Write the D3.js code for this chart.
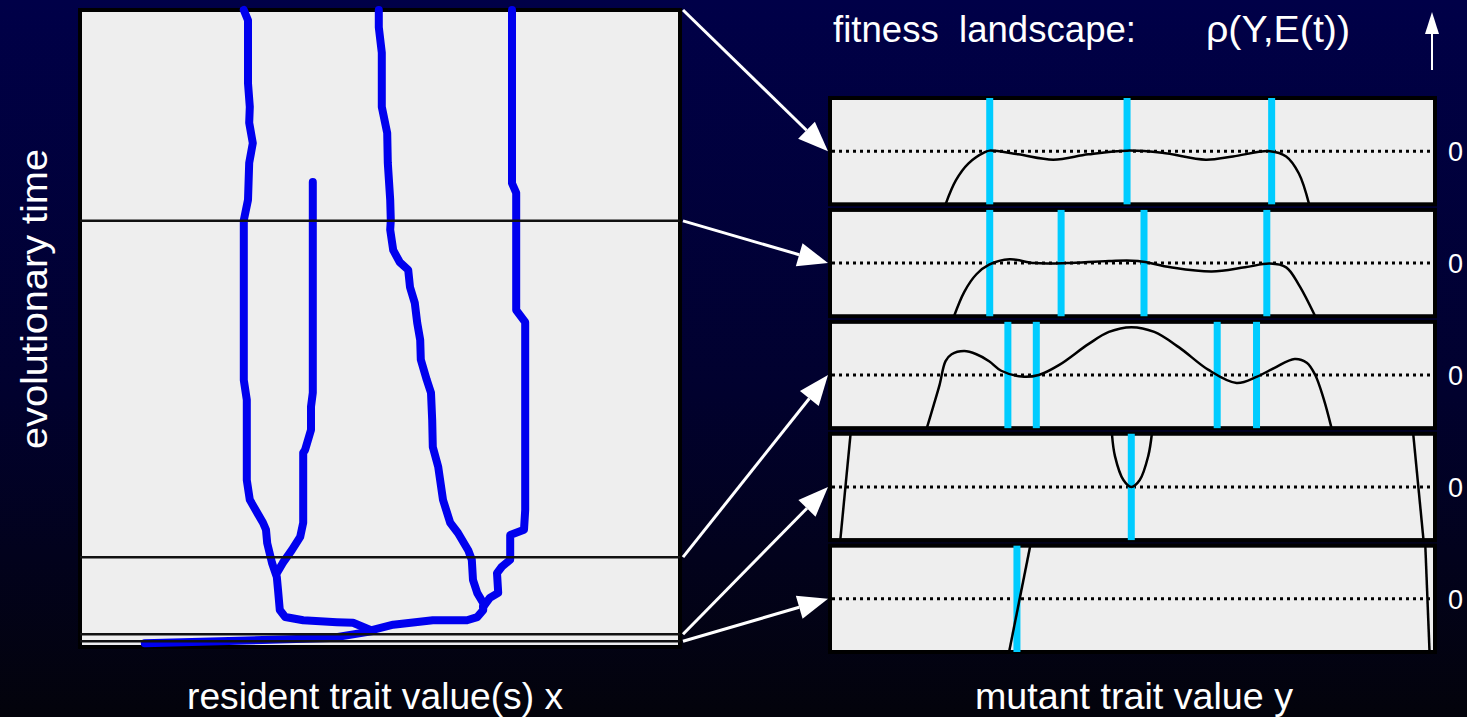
<!DOCTYPE html>
<html>
<head>
<meta charset="utf-8">
<script src="https://cdn.jsdelivr.net/npm/d3@7"></script>
<style>
  body { margin: 0; background: #000; }
  svg { display: block; }
  text { font-family: "Liberation Sans", Arial, sans-serif; fill: #fff; white-space: pre; }
</style>
</head>
<body>
<svg id="chart"></svg>
<script>
// resident lineages: [trait x, evolutionary time]
var lineageA = [[2.73,10],[2.8,9.84],[2.8,8.85],[2.83,8.48],[2.82,8.23],[2.88,7.91],[2.82,7.6],[2.8,7.02],[2.73,6.7],[2.73,4.19],[2.78,3.88],[2.78,2.62],[2.83,2.31],[3.05,1.95],[3.1,1.84],[3.12,1.63],[3.2,1.32],[3.28,1.1],[3.3,0.9],[3.33,0.58],[3.42,0.47],[3.72,0.42],[4.28,0.39],[4.55,0.38],[4.83,0.27]];
var lineageB = [[3.88,7.3],[3.88,3.99],[3.85,3.77],[3.85,3.41],[3.75,3.09],[3.72,3.05],[3.72,1.95],[3.67,1.73],[3.53,1.52],[3.38,1.32],[3.28,1.16]];
var lineageC = [[4.98,10],[4.98,9.73],[5.03,9.33],[5.03,8.48],[5.12,8.07],[5.13,7.6],[5.17,7.02],[5.18,6.7],[5.17,6.55],[5.22,6.23],[5.33,6.04],[5.47,5.92],[5.5,5.65],[5.58,5.4],[5.62,5.09],[5.67,4.82],[5.68,4.51],[5.78,4.19],[5.85,3.99],[5.87,3.56],[5.88,3.14],[5.97,2.83],[6.05,2.31],[6.17,1.95],[6.3,1.79],[6.47,1.52],[6.53,1.37],[6.55,1.05],[6.62,0.85],[6.72,0.69],[6.72,0.58],[6.62,0.47],[6.45,0.42],[5.88,0.42],[5.22,0.35],[4.88,0.27]];
var lineageD = [[7.2,10],[7.2,7.28],[7.27,7.13],[7.27,5.29],[7.42,5.1],[7.42,2.15],[7.4,1.84],[7.17,1.76],[7.17,1.37],[7.03,1.26],[6.95,1.16],[6.97,0.85],[6.83,0.77],[6.72,0.63]];
var ancestor = [[1.08,0.06],[2.33,0.09],[4.17,0.14],[4.88,0.25]];

// times at which the landscape is shown (top of the panel = 10)
var snapshotTimes = [10, 6.69, 1.41, 0.2, 0.09];

// fitness landscapes, one list of curve pieces per snapshot: [mutant y, fitness]
var landscape1 = [[[0.191,-1],[0.208,-0.55],[0.229,-0.23],[0.256,-0.02],[0.264,0.01],[0.311,-0.06],[0.369,-0.16],[0.427,-0.06],[0.491,0.01],[0.549,-0.03],[0.621,-0.16],[0.666,-0.1],[0.727,0],[0.754,-0.1],[0.775,-0.42],[0.792,-1]]];
var landscape2 = [[[0.205,-1],[0.222,-0.54],[0.242,-0.21],[0.263,-0.03],[0.297,0.07],[0.338,0],[0.392,0],[0.461,0.04],[0.509,0.04],[0.563,-0.08],[0.631,-0.16],[0.686,-0.08],[0.727,-0.01],[0.754,-0.08],[0.775,-0.41],[0.802,-1]]];
var landscape3 = [[[0.16,-1],[0.171,-0.58],[0.181,-0.19],[0.191,0.26],[0.201,0.39],[0.222,0.45],[0.242,0.39],[0.263,0.26],[0.283,0.08],[0.317,-0.03],[0.345,0],[0.379,0.19],[0.427,0.58],[0.461,0.81],[0.498,0.9],[0.536,0.81],[0.577,0.52],[0.625,0.1],[0.672,-0.15],[0.706,-0.03],[0.734,0.13],[0.768,0.3],[0.788,0.23],[0.802,0],[0.816,-0.45],[0.829,-1]]];
var landscape4 = [[[0.034,1],[0.017,-1]], [[0.466,1],[0.471,0.58],[0.485,0.13],[0.498,0],[0.512,0.13],[0.526,0.58],[0.532,1]], [[0.964,1],[0.981,-1]]];
var landscape5 = [[[0.331,1],[0.296,-1]], [[0.984,1],[0.991,-1]]];

// resident trait values present at each snapshot (mutant axis)
var residents1 = [0.264, 0.491, 0.73];
var residents2 = [0.264, 0.382, 0.519, 0.722];
var residents3 = [0.294, 0.341, 0.64, 0.705];
var residents4 = [0.498];
var residents5 = [0.309];

var landscapes = [landscape1, landscape2, landscape3, landscape4, landscape5];
var residents = [residents1, residents2, residents3, residents4, residents5];

var width = 1467, height = 717;
var svg = d3.select("#chart").attr("width", width).attr("height", height);
var defs = svg.append("defs");

var grad = defs.append("linearGradient").attr("id", "bg")
    .attr("x1", 0).attr("y1", 0).attr("x2", 0).attr("y2", 1);
grad.append("stop").attr("offset", "0%").attr("stop-color", "#000048");
grad.append("stop").attr("offset", "55%").attr("stop-color", "#01012e");
grad.append("stop").attr("offset", "100%").attr("stop-color", "#03030b");
svg.append("rect").attr("width", width).attr("height", height).attr("fill", "url(#bg)");

// ---- left panel: trait evolution
var x = d3.scaleLinear().domain([0, 10]).range([80, 680]);
var t = d3.scaleLinear().domain([0, 10]).range([647, 10]);

svg.append("rect")
    .attr("x", x(0)).attr("y", t(10))
    .attr("width", x(10) - x(0)).attr("height", t(0) - t(10))
    .attr("fill", "#eeeeee").attr("stroke", "#000").attr("stroke-width", 4);

var lineage = d3.line().x(function(d){ return x(d[0]); }).y(function(d){ return t(d[1]); });

svg.append("g").selectAll("path")
    .data([ancestor, lineageA, lineageB, lineageC, lineageD])
  .enter().append("path")
    .attr("d", lineage)
    .attr("fill", "none")
    .attr("stroke", "#0000ee")
    .attr("stroke-width", 8)
    .attr("stroke-linejoin", "round")
    .attr("stroke-linecap", "round");

svg.append("g").selectAll("line")
    .data(snapshotTimes.slice(1))
  .enter().append("line")
    .attr("x1", x(0)).attr("x2", x(10))
    .attr("y1", function(d){ return t(d); })
    .attr("y2", function(d){ return t(d); })
    .attr("stroke", "#111").attr("stroke-width", 2.5);

// ---- right panels: fitness landscapes
var y = d3.scaleLinear().domain([0, 1]).range([830, 1435]);
var band = d3.scaleBand().domain(d3.range(5)).range([98, 652]).paddingInner(0.05);

function arrow(g, x1, y1, x2, y2, len, half, w) {
  var a = Math.atan2(y2 - y1, x2 - x1);
  var bx = x2 - len * Math.cos(a), by = y2 - len * Math.sin(a);
  g.append("line").attr("x1", x1).attr("y1", y1).attr("x2", bx).attr("y2", by)
    .attr("stroke", "#fff").attr("stroke-width", w);
  var pts = [[x2, y2],
    [bx + half * Math.sin(a), by - half * Math.cos(a)],
    [bx - half * Math.sin(a), by + half * Math.cos(a)]];
  g.append("path").attr("d", "M" + pts.join("L") + "Z").attr("fill", "#fff");
}

var arrows = svg.append("g");

landscapes.forEach(function(pieces, i) {
  var top = band(i), bottom = band(i) + band.bandwidth();
  var f = d3.scaleLinear().domain([-1, 1]).range([bottom, top]);
  var g = svg.append("g");

  defs.append("clipPath").attr("id", "clip" + i)
    .append("rect").attr("x", y(0)).attr("y", top)
    .attr("width", y(1) - y(0)).attr("height", bottom - top);

  g.append("rect")
    .attr("x", y(0)).attr("y", top)
    .attr("width", y(1) - y(0)).attr("height", bottom - top)
    .attr("fill", "#eeeeee").attr("stroke", "#000").attr("stroke-width", 4);

  g.append("line")
    .attr("x1", y(0) + 2).attr("x2", y(1))
    .attr("y1", f(0)).attr("y2", f(0))
    .attr("stroke", "#000").attr("stroke-width", 3)
    .attr("stroke-dasharray", "3,4");

  g.selectAll(".res").data(residents[i]).enter().append("rect")
    .attr("class", "res")
    .attr("x", function(d){ return y(d) - 3.5; })
    .attr("y", top).attr("width", 7).attr("height", bottom - top)
    .attr("fill", "#00ccff");

  var curve = d3.line().curve(d3.curveCatmullRom)
    .x(function(d){ return y(d[0]); }).y(function(d){ return f(d[1]); });
  g.append("g").attr("clip-path", "url(#clip" + i + ")")
    .selectAll("path").data(pieces).enter().append("path")
    .attr("d", curve).attr("fill", "none")
    .attr("stroke", "#000").attr("stroke-width", 2.5);

  g.append("text")
    .attr("x", 1448).attr("y", f(0) + 10)
    .attr("font-size", 27).text("0");

  arrow(arrows, x(10) + 3, t(snapshotTimes[i]), y(0) - 2, f(0), 30, 12, 3);
});

// fitness direction arrow
arrow(svg, 1432, 70, 1432, 12, 22, 7, 2);

// ---- labels
function label(px, py, len, str) {
  return svg.append("text").attr("x", px).attr("y", py).attr("font-size", 37)
    .attr("textLength", len).attr("lengthAdjust", "spacingAndGlyphs")
    .text(str);
}
label(833, 42, 303, "fitness  landscape:");
label(1206, 42, 144, "ρ(Y,E(t))");
label(187, 709, 376, "resident trait value(s) x");
label(975, 709, 318, "mutant trait value y");
svg.append("text")
  .attr("transform", "translate(47,449) rotate(-90)")
  .attr("font-size", 37)
  .attr("textLength", 300).attr("lengthAdjust", "spacingAndGlyphs")
  .text("evolutionary time");
</script>
</body>
</html>
